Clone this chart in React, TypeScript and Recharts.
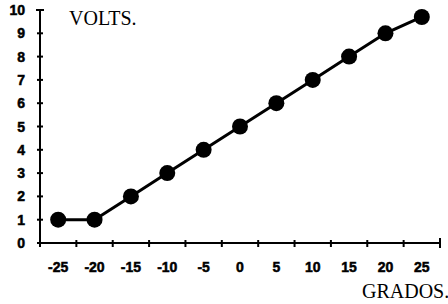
import React from "react";
import { LineChart, Line, XAxis, YAxis } from "recharts";

const grados = [-25, -20, -15, -10, -5, 0, 5, 10, 15, 20, 25];
const volts = [1, 1, 2, 3, 4, 5, 6, 7, 8, 9, 9.7];
const yTicks = [0, 1, 2, 3, 4, 5, 6, 7, 8, 9, 10];
const yLabel = "VOLTS.";
const xLabel = "GRADOS.";

const data = grados.map((g, i) => ({ g, v: volts[i] }));
const step = grados[1] - grados[0];
const lo = grados[0] - step / 2;
const hi = grados[grados.length - 1] + step / 2;
const bounds = [lo, ...grados.map((g) => g + step / 2)];
const xTicks = [...bounds, ...grados].sort((a, b) => a - b);

const tickFont = "'Liberation Sans', Arial, sans-serif";

const XTick = (props: any) => {
  const { x, y, payload } = props;
  const val = payload.value;
  if (grados.includes(val)) {
    return (
      <text
        x={x}
        y={y + 29}
        textAnchor="middle"
        fontFamily={tickFont}
        fontWeight="bold"
        fontSize={14}
        fill="#000"
        stroke="#000"
        strokeWidth={0.5}
      >
        {val}
      </text>
    );
  }
  const isLast = val === hi;
  return (
    <line
      x1={x}
      x2={x}
      y1={y - (isLast ? 5 : 3)}
      y2={y + (isLast ? 5 : 4)}
      stroke="#000"
      strokeWidth={2}
    />
  );
};

const YTick = (props: any) => {
  const { x, y, payload } = props;
  const isTop = payload.value === 10;
  return (
    <g>
      <line
        x1={x - (isTop ? 4 : 3)}
        x2={x + (isTop ? 4 : 3)}
        y1={y}
        y2={y}
        stroke="#000"
        strokeWidth={2}
      />
      <text
        x={x - 15}
        y={y + 5}
        textAnchor="end"
        fontFamily={tickFont}
        fontWeight="bold"
        fontSize={14}
        fill="#000"
        stroke="#000"
        strokeWidth={0.5}
      >
        {payload.value}
      </text>
    </g>
  );
};

export default function App() {
  return (
    <div style={{ position: "absolute", left: 0, top: 0, width: 448, height: 304, background: "#fff" }}>
      <LineChart
        width={448}
        height={304}
        data={data}
        margin={{ top: 10, right: 8, bottom: 31, left: 0 }}
      >
        <XAxis
          dataKey="g"
          type="number"
          domain={[lo, hi]}
          ticks={xTicks}
          interval={0}
          tick={<XTick />}
          tickLine={false}
          tickSize={0}
          tickMargin={0}
          height={30}
          axisLine={{ stroke: "#000", strokeWidth: 2 }}
        />
        <YAxis
          type="number"
          domain={[0, 10]}
          ticks={yTicks}
          interval={0}
          width={40}
          tick={<YTick />}
          tickLine={false}
          tickSize={0}
          tickMargin={0}
          axisLine={{ stroke: "#000", strokeWidth: 2 }}
        />
        <Line
          dataKey="v"
          stroke="#000"
          strokeWidth={3}
          dot={{ r: 8, fill: "#000", stroke: "#000", strokeWidth: 0 }}
          isAnimationActive={false}
        />
        <text x={69} y={25} fontFamily="'Liberation Serif', 'Times New Roman', serif" fontSize={20} fill="#000">
          {yLabel}
        </text>
        <text x={362} y={298} fontFamily="'Liberation Serif', 'Times New Roman', serif" fontSize={20} fill="#000">
          {xLabel}
        </text>
      </LineChart>
    </div>
  );
}
